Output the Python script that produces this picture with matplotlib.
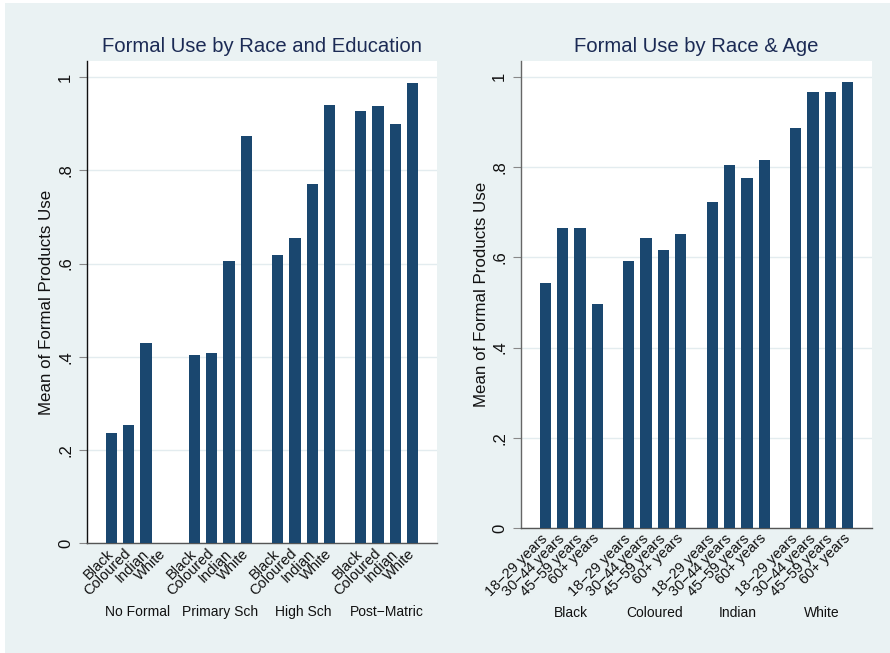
import numpy as np
import matplotlib
matplotlib.use("Agg")
import matplotlib.pyplot as plt
from matplotlib.patches import Rectangle

plt.rcParams['font.family'] = ['Liberation Sans', 'DejaVu Sans']

# ---- data -------------------------------------------------------------
races = ["Black", "Coloured", "Indian", "White"]
education_groups = ["No Formal", "Primary Sch", "High Sch", "Post\u2212Matric"]
edu_black    = [0.237, 0.403, 0.619, 0.927]
edu_coloured = [0.253, 0.409, 0.655, 0.939]
edu_indian   = [0.429, 0.606, 0.770, 0.899]
edu_white    = [np.nan, 0.875, 0.940, 0.988]

age_bands = ["18\u221229 years", "30\u221244 years", "45\u221259 years", "60+ years"]
age_black    = [0.544, 0.664, 0.664, 0.497]
age_coloured = [0.591, 0.642, 0.617, 0.651]
age_indian   = [0.722, 0.805, 0.776, 0.815]
age_white    = [0.887, 0.966, 0.967, 0.989]

ytick_values = [0, 0.2, 0.4, 0.6, 0.8, 1.0]
ytick_labels = ["0", ".2", ".4", ".6", ".8", "1"]

# ---- styling ----------------------------------------------------------
BG = "#EAF2F3"
BAR = "#1A476F"
TITLE = "#1C2B55"
GRID = "#E3ECEF"
W, H = 890, 653

fig = plt.figure(figsize=(W / 100, H / 100), dpi=100, facecolor=BG)
# thin white margin along the top and left edges
fig.patches.append(Rectangle((0, 1 - 3 / H), 1, 3 / H, transform=fig.transFigure,
                             facecolor="white", edgecolor="none", zorder=-1))
fig.patches.append(Rectangle((0, 0), 5 / W, 1, transform=fig.transFigure,
                             facecolor="white", edgecolor="none", zorder=-1))

GROUP_STEP = 250 / 52
BAR_W = 34 / 52
EDGE = 73 / 52


def ax_rect(x0, x1, ytop, ybot):
    return [x0 / W, 1 - ybot / H, (x1 - x0) / W, (ybot - ytop) / H]


def panel(rect, title, series_by_group, group_names, tick_names, spine_color,
          group_offset_px, ylabel_x_px):
    ax = fig.add_axes(rect)
    ax.set_facecolor("white")
    n_groups = len(group_names)
    positions, labels = [], []
    for gi in range(n_groups):
        vals = series_by_group[gi]
        xs = [gi * GROUP_STEP + j for j in range(len(vals))]
        for x, v, name in zip(xs, vals, tick_names):
            positions.append(x)
            labels.append(name)
            if not np.isnan(v):
                ax.bar(x, v, width=BAR_W, color=BAR, edgecolor="none", zorder=3)
        gc = np.mean(xs)
        ax.annotate(group_names[gi], xy=(gc, 0), xycoords=("data", "axes fraction"),
                    xytext=(0, -group_offset_px * 0.72), textcoords="offset points",
                    ha="center", va="center", fontsize=10, color="#111111")
    ax.set_xlim(-EDGE, (n_groups - 1) * GROUP_STEP + 3 + EDGE)
    ax.set_ylim(0, 1.035)
    ax.set_xticks(positions)
    ax.set_xticklabels(labels, rotation=45, ha="right", va="center",
                       rotation_mode="anchor", fontsize=10.5, color="#111111")
    ax.tick_params(axis="x", length=0, pad=6)
    ax.set_yticks(ytick_values)
    ax.set_yticklabels(ytick_labels, rotation=90, va="center", fontsize=12,
                       color="#111111")
    ax.tick_params(axis="y", length=6, width=0.8, color="#888888", pad=4)
    ax.grid(axis="y", color=GRID, linewidth=1.0, zorder=0)
    ax.set_axisbelow(True)
    for s in ("top", "right"):
        ax.spines[s].set_visible(False)
    ax.spines["left"].set_color(spine_color)
    ax.spines["bottom"].set_color("#555555")
    ax.spines["left"].set_linewidth(1.0)
    ax.spines["bottom"].set_linewidth(1.0)
    ax.set_ylabel("Mean of Formal Products Use", fontsize=12.2, color="#111111")
    ax.yaxis.label.set_va("center")
    ax.yaxis.set_label_coords((ylabel_x_px - rect[0] * W) / (rect[2] * W), 0.5)
    x0 = rect[0] + rect[2] / 2
    fig.text(x0, 1 - 46 / H, title, ha="center", va="center", fontsize=14.6,
             color=TITLE)
    return ax


edu_series = [[edu_black[i], edu_coloured[i], edu_indian[i], edu_white[i]]
              for i in range(len(education_groups))]
age_series = [age_black, age_coloured, age_indian, age_white]

panel(ax_rect(87, 437, 61, 543), "Formal Use by Race and Education",
      edu_series, education_groups, races, "#111111", 69, 47)
panel(ax_rect(521, 872, 61, 528), "Formal Use by Race & Age",
      age_series, races, age_bands, "#666666", 85, 482)

fig.savefig("out.png", dpi=100, facecolor=BG)
